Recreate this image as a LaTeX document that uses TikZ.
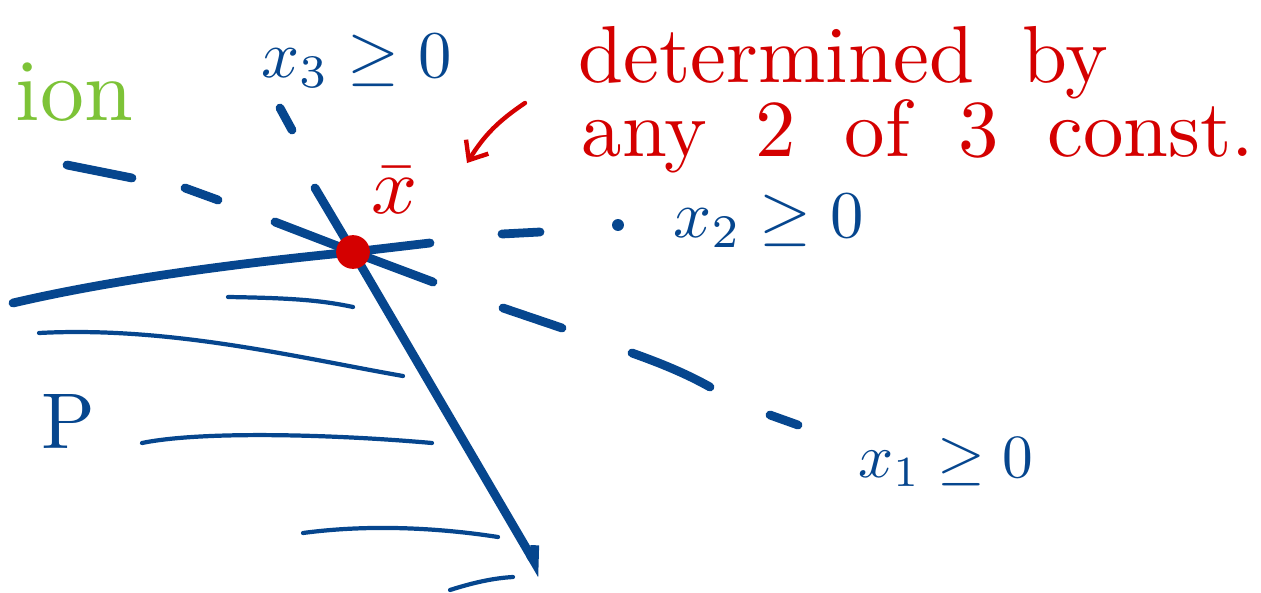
\documentclass[tikz,border=0pt]{standalone}
\usepackage{tikz}
\usetikzlibrary{arrows.meta,positioning}
\definecolor{inkblue}{RGB}{6,70,142}
\definecolor{inkred}{RGB}{212,0,0}
\definecolor{inkgreen}{RGB}{125,195,55}
\newcommand{\widegap}{\spaceskip=0.6em\relax}

\begin{document}
\begin{tikzpicture}[x=0.02cm, y=-0.02cm, line cap=round,
    every node/.style={inner sep=0pt, font=\normalsize},
    edgeline/.style={inkblue, line width=5pt},
    dashbit/.style={inkblue, line width=5pt},
    hatchline/.style={inkblue, line width=2.4pt},
    bluelabel/.style={inkblue, anchor=base west, scale=3.8},
    rednote/.style={inkred, anchor=base west, scale=4.6}]
    \useasboundingbox (0,0) rectangle (1261,592);
    \clip (0,0) rectangle (1261,592);
    % title (cut off)
    \node[anchor=base west, text=inkgreen, scale=5] (title) at (14,120) {ion};
    % vertex
    \coordinate (xbar) at (353,252);
    % x2 >= 0 : lower edge of P
    \draw[edgeline] (13,303) .. controls (120,278) and (250,262) .. (xbar) -- (430,243);
    \draw[dashbit] (502,234) -- (540,232);
    \fill[inkblue] (618,225) circle[radius=3.4pt];
    \node[bluelabel] (xtwo) at (672,237) {$x_2\geq 0$};
    % x1 >= 0
    \draw[dashbit] (67,165) -- (132,178);
    \draw[dashbit] (185,188) -- (218,200);
    \draw[edgeline] (275,222) -- (xbar) -- (433,282);
    \draw[dashbit] (503,308) -- (562,328);
    \draw[dashbit] (632,353) .. controls (660,363) and (685,373) .. (710,387);
    \draw[dashbit] (770,415) -- (798,425);
    \node[bluelabel, scale=0.92] (xone) at (857,477) {$x_1\geq 0$};
    % x3 >= 0 : steep edge of P
    \draw[dashbit] (280,108) -- (292,130);
    \draw[edgeline, -{Straight Barb[harpoon, length=8pt, width=10pt]}] (315,188) -- (xbar) -- (542,575);
    \node[bluelabel] (xthree) at (260,77) {$x_3\geq 0$};
    % hatching of P
    \draw[hatchline] (228,297) .. controls (290,298) and (320,300) .. (353,307);
    \draw[hatchline] (39,333) .. controls (170,326) and (300,358) .. (403,376);
    \draw[hatchline] (142,443) .. controls (200,431) and (330,434) .. (432,443);
    \draw[hatchline] (303,533) .. controls (370,524) and (440,528) .. (498,537);
    \draw[hatchline] (450,590) .. controls (475,582) and (495,578) .. (513,577);
    \node[inkblue, anchor=base west, scale=4.5] (poly) at (40,448) {P};
    % the vertex and its note
    \fill[inkred] (xbar) circle[radius=9.6pt];
    \node[inkred, anchor=base west, scale=4.6] (xbarlabel) at (370,213) {$\bar{x}$};
    \node[rednote] (note1) at (577,82) {\widegap determined by};
    \node[rednote] (note2) at (580,156) {\widegap any 2 of 3 const.};
    \coordinate (pointtail) at (525,103);
    \coordinate (pointhead) at (467,163);
    \draw[inkred, line width=2.5pt, -{Straight Barb[length=9pt, width=15pt]}] (pointtail) to[bend right=12] (pointhead);
\end{tikzpicture}
\end{document}
